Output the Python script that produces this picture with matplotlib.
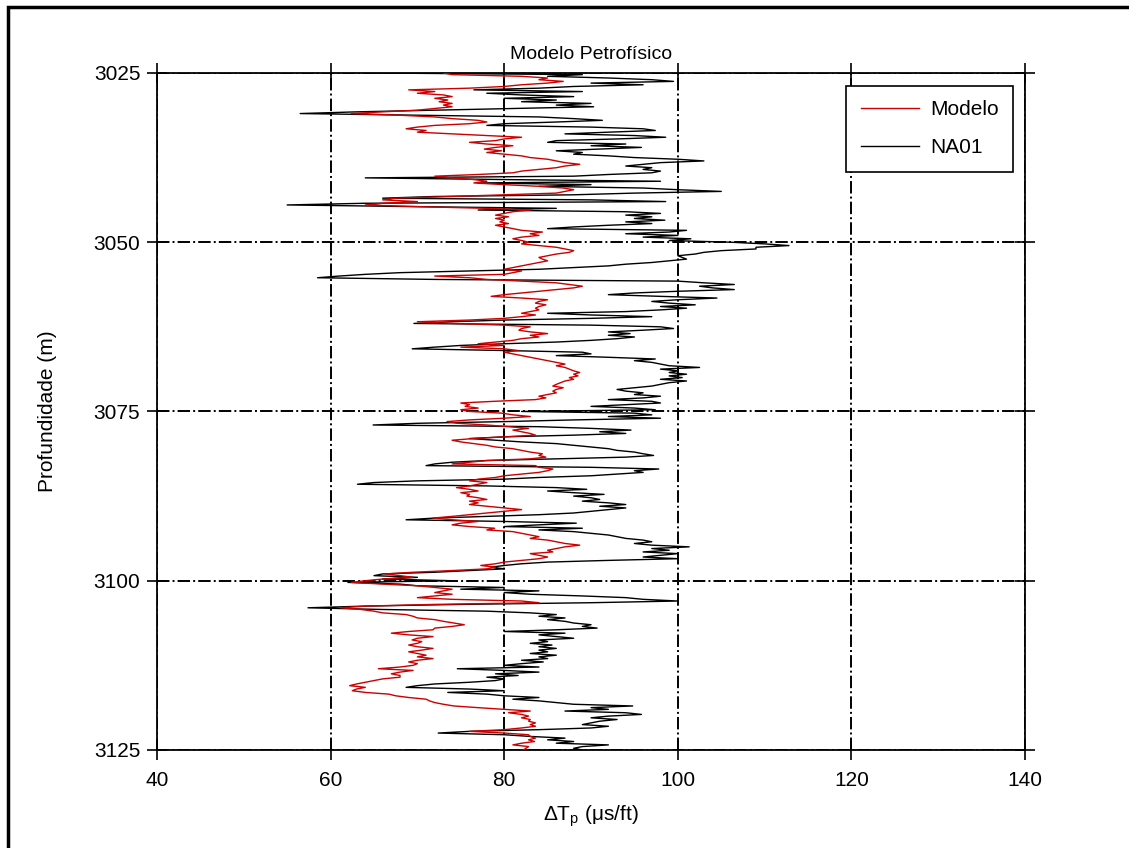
import numpy as np
import matplotlib
matplotlib.use('Agg')
import matplotlib.pyplot as plt
from matplotlib.patches import Rectangle

plt.rcParams['font.family'] = ['Liberation Sans', 'DejaVu Sans']

# NA01 log, 4 samples per metre (3025 .. 3125 m)
na01 = [
    64, 89, 85, 92,  97, 99.5, 90, 96,  88, 84, 76.5, 89,  78, 82, 88, 80,
    86, 82, 90, 86,  90.3, 81, 72, 63,  56.5, 70, 84, 88,  91.3, 86, 80, 78,
    90, 96, 97.4, 92,  87, 95, 98.6, 93,  86, 85, 94, 90,  95.8, 91, 86, 89,
    88, 92, 95, 100,  103, 98, 96, 94,  97, 96, 98, 97,  92, 88, 64, 80,
    98, 77, 90, 84,  96, 100, 105, 95,  88, 72, 66, 90,  98.6, 64, 55, 70,
    86, 77, 94, 98,  94, 97, 95, 98.5,  94, 97, 92, 88,  85, 101, 99, 94,
    100, 96, 101.5, 99,  106, 110, 112.8, 109,  109, 105, 103, 102,  100, 100.5, 101, 99,
    97, 94, 92, 88,  84, 76, 68, 64,  61, 58.5, 72, 100,  103, 106.5, 102.5, 104,
    106.5, 100, 95, 92,  98, 104.5, 100, 97,  99, 102, 98, 101,  98, 94, 85, 90,
    97, 90, 80, 74,  69.6, 90, 98, 99.5,  96, 92, 94.5, 92,  95, 93, 90, 86,
    80, 75, 72, 69.4,  80, 89, 90, 86,  92, 97.4, 95, 97,  98, 99, 102.5, 98,
    100, 99, 101, 99,  100.5, 98, 101, 99,  98, 97, 95, 93,  94, 96, 95, 98,
    96, 92, 97, 98,  94, 90, 95, 97.4,  82, 95, 97, 92,  98, 88, 80, 70,
    64.9, 84, 90, 94.6,  91, 94, 88, 80,  76, 79, 82, 86,  88, 90, 92, 93,
    95, 96, 97.2, 94,  86, 78, 74, 72,  71, 90, 97.8, 95,  96, 93, 90, 84,
    80, 70, 65, 63.1,  78, 86, 89.5, 85,  88, 91.5, 88, 90,  91, 89, 92, 94,
    91, 94, 92, 90,  88, 84, 78, 72,  68.7, 80, 88.3, 84,  80, 89, 84, 88,
    90, 92, 93, 94,  96, 97, 95, 97,  101.3, 97, 99, 96,  100, 98, 96, 100,
    92, 85, 82, 80,  78.5, 80, 76, 72,  66, 65, 70, 66,  74, 62, 68, 70,
    80, 75, 84, 80,  83, 89, 94, 96,  100, 90, 75, 64,  57.4, 66, 78, 83,
    86, 84, 87, 85,  87, 88, 90, 89,  90.7, 86, 80, 87,  84, 86, 88, 84,
    85, 83, 85.5, 84,  86, 84, 85, 83,  86, 84, 85, 82,  84.5, 82, 80, 84,
    74.6, 80, 84, 79,  81.6, 78, 80, 79,  76, 72, 70, 68.7,  76, 80, 73.5, 78,
    80, 84, 81, 84,  86, 88, 94.8, 90,  92, 87, 94, 95.8,  92, 90, 93, 91,
    90, 89, 92, 90,  84, 76, 72.4, 80,  83, 87, 85, 88,  86, 92, 89, 88,
    89,
]

# petrophysical model, same sampling
modelo = [
    73, 74, 82, 85,  84, 86.8, 85, 82,  80, 76, 69, 72,  70, 73, 74, 72,
    73.5, 72.5, 74, 73,  74, 72, 70, 66,  62.4, 68, 72, 74,  77, 78, 76, 72,
    70, 68.7, 71, 70,  74, 78, 82, 80,  79, 76, 78, 81,  79, 77.7, 79.7, 78,
    80, 82, 83, 85,  86, 87, 88.7, 87,  86, 84, 82, 81,  77, 72, 74, 76.5,
    78, 76.5, 80, 84,  86.8, 88, 87, 86,  80, 74, 67.5, 66,  70, 66, 64, 70,
    78, 83, 81, 80,  79, 80.5, 79, 80,  79.5, 80.5, 79, 80,  81, 82, 84.4, 83,
    84, 82, 81, 82,  82.8, 82, 84, 86,  87, 88, 87.5, 86,  85, 84, 84.4, 85,
    84, 83, 82, 81,  80, 82, 81, 80,  72, 76, 78, 82,  86, 87.5, 89, 88,
    86, 84, 82, 80,  78.5, 82, 85, 84,  83.6, 84.8, 84, 83.6,  84, 83, 82, 83.6,
    82, 80, 76, 70,  74, 80, 83, 82,  81.7, 83, 85, 83,  84, 82, 81, 79,
    77, 80, 75, 80,  81.6, 80, 81, 82,  83, 84, 85, 86,  87, 86, 87, 87.5,
    88, 88.7, 88, 88.5,  87.5, 88, 87, 86.5,  86, 85.6, 86.8, 86,  85.6, 86, 85, 84,
    84.8, 83.6, 78.9, 75,  76, 75.5, 77, 75,  76, 79.7, 81, 83,  80, 76, 73.4, 74.6,
    78, 80.5, 82.8, 81,  82, 83, 83.6, 80,  76.5, 74, 75, 76.5,  78, 79, 81, 82,
    83, 84.4, 84, 84.8,  83, 78, 76, 74,  83.6, 84, 85.6, 85,  84, 82, 80, 79,
    77, 76, 78, 77,  76, 74.5, 76, 77,  75, 76, 75.7, 77,  78, 76, 77, 76,
    78, 80, 82, 80,  78, 76, 74, 71.8,  74, 77, 75, 74,  76, 78.9, 78, 81,
    82, 83, 84, 83,  85, 86, 87, 88.7,  87, 86, 85, 85.6,  83, 84, 85, 84,
    82, 80, 79, 77.3,  79, 78, 74, 69.5,  66.3, 68, 69.5, 66,  64, 62.4, 66, 70,
    72, 74, 73, 72,  74, 72, 70, 74,  82, 84, 72, 64,  61.2, 63.5, 65, 66,
    68.7, 69.5, 70, 72,  73, 74.2, 75.4, 74,  72, 71.8, 69, 67,  69, 71.8, 70, 69.4,
    70.5, 70, 69, 70,  71.8, 70.5, 69, 70,  71, 70, 71.8, 70,  69, 70, 69.5, 68,
    65.5, 69.5, 68, 67,  68, 68, 66, 65,  64, 63, 62.2, 64,  63, 62.5, 64, 66.7,
    67.5, 69, 71, 71.4,  72, 73, 74.2, 77,  80, 83, 80.5, 82,  82.8, 82, 83, 82.8,
    83.6, 83, 83.6, 82,  80, 76, 80, 82.8,  83, 83.6, 82.8, 83.5,  82, 81, 82.8, 82.5,
    82.2,
]

depth_na01 = np.linspace(3025, 3125, len(na01))
depth_modelo = np.linspace(3025, 3125, len(modelo))

xticks = [40, 60, 80, 100, 120, 140]
yticks = [3025, 3050, 3075, 3100, 3125]

fig = plt.figure(figsize=(11.29, 8.48), dpi=100)
ax = fig.add_axes([0.139, 0.1156, 0.769, 0.7984])

ax.plot(modelo, depth_modelo, color='#cc0000', lw=1.0, label='Modelo', zorder=3)
ax.plot(na01, depth_na01, color='black', lw=1.0, label='NA01', zorder=2)

ax.set_xlim(40, 140)
ax.set_ylim(3125, 3025)
ax.set_xticks(xticks)
ax.set_yticks(yticks)
ax.grid(True, color='black', linestyle='-.', linewidth=1.4)
ax.set_axisbelow(True)
ax.tick_params(direction='inout', length=14, width=1.2, labelsize=15,
               top=True, right=True, pad=5)
ax.tick_params(axis='x', pad=8)
for sp in ax.spines.values():
    sp.set_linewidth(1.3)

ax.set_title('Modelo Petrofísico', fontsize=14, pad=10)
ax.set_ylabel('Profundidade (m)', fontsize=15, labelpad=26)
ax.set_xlabel('ΔT$_\\mathregular{p}$ (μs/ft)', fontsize=15, labelpad=10)

leg = ax.legend(loc='upper right', bbox_to_anchor=(0.986, 0.981), fontsize=15,
                fancybox=False, framealpha=1, edgecolor='black',
                handlelength=2.8, handletextpad=0.5, borderpad=0.7,
                labelspacing=0.9, borderaxespad=0)
leg.get_frame().set_linewidth(1.2)

# figure border, left and top edges
fig.patches.append(Rectangle((0.0075, -0.05), 1.2, 1.042, transform=fig.transFigure,
                             fill=False, edgecolor='black', linewidth=2.5))

fig.savefig('out.png', dpi=100)
